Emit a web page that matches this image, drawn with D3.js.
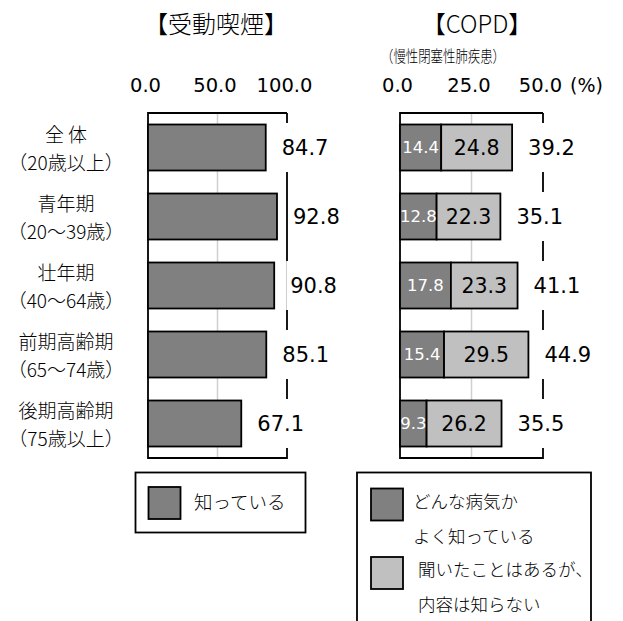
<!DOCTYPE html>
<html>
<head>
<meta charset="utf-8">
<script src="https://cdn.jsdelivr.net/npm/d3@7"></script>
<style>
  html, body { margin: 0; padding: 0; background: #fff; }
  svg { display: block; }
</style>
</head>
<body>
<svg id="chart" width="623" height="621"></svg>
<script>
// ---- data ----
const categoryNames = ["全 体", "青年期", "壮年期", "前期高齢期", "後期高齢期"];
const categoryAges = ["（20歳以上）", "（20～39歳）", "（40～64歳）", "（65～74歳）", "（75歳以上）"];
const passiveSmokingKnown = [84.7, 92.8, 90.8, 85.1, 67.1];
const copdWellKnown = [14.4, 12.8, 17.8, 15.4, 9.3];
const copdHeardOnly = [24.8, 22.3, 23.3, 29.5, 26.2];
const copdTotal = [39.2, 35.1, 41.1, 44.9, 35.5];
const leftTicks = [0, 50, 100];
const rightTicks = [0, 25, 50];
const leftTitle = "【受動喫煙】";
const rightTitle = "【COPD】";
const rightSubtitle = "（慢性閉塞性肺疾患）";
const unitLabel = "(%)";
const legendLeft = ["知っている"];
const legendRight = [["どんな病気か", "よく知っている"], ["聞いたことはあるが、", "内容は知らない"]];

// ---- style ----
const JP = "'Noto Sans CJK JP', 'Noto Sans', sans-serif";
const JPW = 300;
const NUM = "'DejaVu Sans', Verdana, sans-serif";
const NUMW = "normal";
const DARK = "#808080", LIGHT = "#c0c0c0", GRID = "#d0d0d0";
const SW = 1.8;

const svg = d3.select("#chart");
const fmt = d3.format(".1f");

const plotTop = 113, plotBottom = 458;
const y = d3.scaleBand().domain(d3.range(categoryNames.length)).range([plotTop, plotBottom])
  .paddingInner(1/3).paddingOuter(1/6);
const xL = d3.scaleLinear().domain([0, 100]).range([148, 287]);
const xR = d3.scaleLinear().domain([0, 50]).range([400, 543]);

function jp(sel, size) {
  return sel.style("font-family", JP).style("font-size", size + "px").style("font-weight", JPW);
}
function num(sel, size) {
  return sel.style("font-family", NUM).style("font-size", size + "px").style("font-weight", NUMW);
}

// titles
jp(svg.append("text").attr("x", 216).attr("y", 33).attr("text-anchor", "middle"), 24).text(leftTitle);
jp(svg.append("text").attr("x", 477).attr("y", 33).attr("text-anchor", "middle"), 24).text(rightTitle);
jp(svg.append("text").attr("x", 443).attr("y", 62).attr("text-anchor", "middle")
  .attr("textLength", 124).attr("lengthAdjust", "spacingAndGlyphs"), 16).text(rightSubtitle);

// category labels
const cat = svg.append("g");
categoryNames.forEach((n, i) => {
  const cy = y(i) + y.bandwidth() / 2;
  jp(cat.append("text").attr("x", 66).attr("y", cy - 12).attr("dy", "0.35em")
    .attr("text-anchor", "middle"), 19).text(n);
  jp(cat.append("text").attr("x", 66).attr("y", cy + 16).attr("dy", "0.35em")
    .attr("text-anchor", "middle"), 19).text(categoryAges[i]);
});

function axis(scale, ticks) {
  const g = svg.append("g").attr("transform", "translate(-3,92)")
    .call(d3.axisTop(scale).tickValues(ticks).tickFormat(fmt).tickSize(0).tickPadding(0));
  g.select(".domain").remove();
  num(g.selectAll("text"), 19.5).attr("fill", "#000");
  return g;
}
axis(xL, leftTicks);
axis(xR, rightTicks);
num(svg.append("text").attr("x", 570).attr("y", 92), 19).text(unitLabel);

function frame(scale, gridVal) {
  const g = svg.append("g");
  const [x0, x1] = scale.range();
  g.append("line").attr("x1", scale(gridVal)).attr("x2", scale(gridVal)).attr("y1", plotTop).attr("y2", plotBottom)
    .attr("stroke", GRID).attr("stroke-width", 1.5);
  g.append("path").attr("d", `M${x1},${plotTop}H${x0}V${plotBottom}H${x1}V${plotTop}`)
    .attr("fill", "none").attr("stroke", "#000").attr("stroke-width", SW);
}
frame(xL, 50);
frame(xR, 25);

// left bars
svg.append("g").selectAll("rect").data(passiveSmokingKnown).join("rect")
  .attr("x", xL(0)).attr("y", (d, i) => y(i)).attr("width", d => xL(d) - xL(0)).attr("height", y.bandwidth())
  .attr("fill", DARK).attr("stroke", "#000").attr("stroke-width", SW);

// right stacked bars
svg.append("g").selectAll("rect").data(copdWellKnown).join("rect")
  .attr("x", xR(0)).attr("y", (d, i) => y(i)).attr("width", d => xR(d) - xR(0)).attr("height", y.bandwidth())
  .attr("fill", DARK).attr("stroke", "#000").attr("stroke-width", SW);
svg.append("g").selectAll("rect").data(copdHeardOnly).join("rect")
  .attr("x", (d, i) => xR(copdWellKnown[i])).attr("y", (d, i) => y(i))
  .attr("width", (d, i) => xR(copdWellKnown[i] + d) - xR(copdWellKnown[i])).attr("height", y.bandwidth())
  .attr("fill", LIGHT).attr("stroke", "#000").attr("stroke-width", SW);

// segment labels
num(svg.append("g").selectAll("text").data(copdWellKnown).join("text")
  .attr("x", (d) => (xR(0) + xR(d)) / 2).attr("y", (d, i) => y(i) + y.bandwidth() / 2).attr("dy", "0.36em")
  .attr("text-anchor", "middle").attr("fill", "#fff"), 16.5)
  .text(d => fmt(d));
num(svg.append("g").selectAll("text").data(copdHeardOnly).join("text")
  .attr("x", (d, i) => (xR(copdWellKnown[i]) + xR(copdWellKnown[i] + d)) / 2)
  .attr("y", (d, i) => y(i) + y.bandwidth() / 2).attr("dy", "0.36em")
  .attr("text-anchor", "middle").attr("fill", "#000"), 20.5)
  .text(d => fmt(d));

// end labels with white background
function endLabels(scale, values) {
  const g = svg.append("g");
  values.forEach((v, i) => {
    const cy = y(i) + y.bandwidth() / 2;
    const bg = g.append("rect").attr("fill", "#fff");
    const t = num(g.append("text").attr("x", scale(v) + 16).attr("y", cy).attr("dy", "0.36em")
      .attr("fill", "#000"), 21).text(fmt(v));
    const bb = t.node().getBBox();
    bg.attr("x", bb.x - 4).attr("y", cy - 24.5).attr("width", bb.width + 8).attr("height", 49);
  });
}
endLabels(xL, passiveSmokingKnown);
endLabels(xR, copdTotal);

// legends
const lg = svg.append("g");
lg.append("rect").attr("x", 135.5).attr("y", 472.5).attr("width", 170).attr("height", 60)
  .attr("fill", "#fff").attr("stroke", "#000").attr("stroke-width", SW);
lg.append("rect").attr("x", 148.5).attr("y", 487).attr("width", 32).attr("height", 32)
  .attr("fill", DARK).attr("stroke", "#000").attr("stroke-width", SW);
jp(lg.append("text").attr("x", 194).attr("y", 503).attr("dy", "0.35em"), 18.5).text(legendLeft[0]);

lg.append("rect").attr("x", 357).attr("y", 472.5).attr("width", 234).attr("height", 200)
  .attr("fill", "#fff").attr("stroke", "#000").attr("stroke-width", SW);
const swFill = [DARK, LIGHT];
const swY = [488.5, 557];
const txtX = [413, 418];
legendRight.forEach((lines, k) => {
  lg.append("rect").attr("x", 371).attr("y", swY[k]).attr("width", 32).attr("height", 32)
    .attr("fill", swFill[k]).attr("stroke", "#000").attr("stroke-width", SW);
  lines.forEach((s, j) => {
    jp(lg.append("text").attr("x", txtX[k]).attr("y", swY[k] + 13 + j * 35).attr("dy", "0.35em"), 17.5).text(s);
  });
});
</script>
</body>
</html>
